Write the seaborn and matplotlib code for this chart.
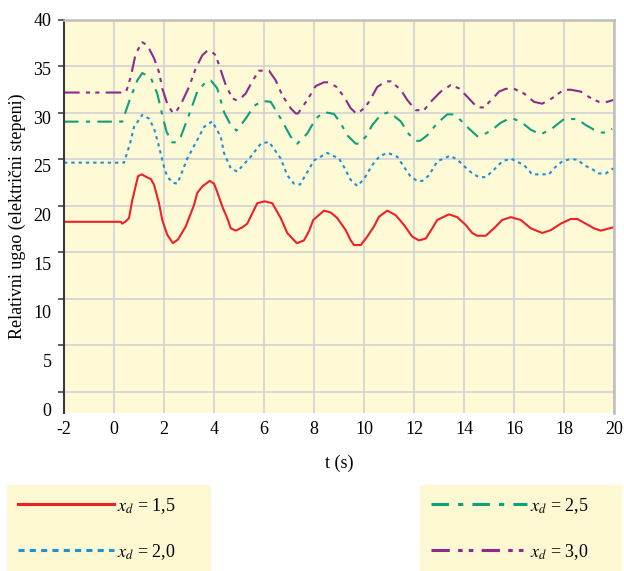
import numpy as np
import pandas as pd
import matplotlib
matplotlib.use("Agg")
import matplotlib.pyplot as plt
from matplotlib.lines import Line2D
import seaborn as sns

# ---------------- data ----------------
t_15 = [-2, 0.27, 0.33, 0.45, 0.6, 0.73, 0.96, 1.11, 1.31, 1.47, 1.6, 1.8, 1.93, 2.13, 2.36, 2.56,
        2.87, 3.2, 3.33, 3.53, 3.83, 4.0, 4.13, 4.36, 4.53, 4.67, 4.87, 5.13, 5.33, 5.53, 5.73,
        6.03, 6.33, 6.67, 6.93, 7.31, 7.6, 7.8, 7.97, 8.4, 8.67, 8.93, 9.27, 9.47, 9.6, 9.87,
        10.13, 10.4, 10.6, 10.93, 11.27, 11.6, 11.93, 12.2, 12.47, 12.73, 12.93, 13.4, 13.73,
        14.07, 14.33, 14.53, 14.87, 15.2, 15.53, 15.87, 16.27, 16.67, 17.13, 17.47, 17.87,
        18.27, 18.53, 18.87, 19.2, 19.47, 19.97]
v_15 = [18.3, 18.3, 18.1, 18.3, 18.7, 20.6, 23.2, 23.4, 23.1, 22.9, 22.3, 20.3, 18.5, 16.9, 16.0, 16.4,
        17.8, 20.1, 21.4, 22.1, 22.7, 22.4, 21.5, 19.75, 18.7, 17.6, 17.35, 17.7, 18.1, 19.2, 20.3,
        20.5, 20.3, 18.7, 17.1, 16.0, 16.3, 17.3, 18.5, 19.5, 19.3, 18.7, 17.4, 16.3, 15.8, 15.8,
        16.7, 17.8, 18.85, 19.5, 19.0, 17.96, 16.7, 16.3, 16.5, 17.6, 18.5, 19.1, 18.8,
        17.96, 17.1, 16.8, 16.8, 17.6, 18.5, 18.8, 18.5, 17.6, 17.1, 17.4, 18.1,
        18.6, 18.6, 18.1, 17.6, 17.35, 17.7]

t_20 = [-2, 0.4, 0.64, 0.8, 1.13, 1.4, 1.6, 1.77, 2.0, 2.13, 2.35, 2.53, 2.7, 2.93, 3.33, 3.6, 3.93,
        4.27, 4.4, 4.67, 4.93, 5.47, 5.87, 6.2, 6.67, 6.93, 7.2, 7.44, 7.7, 8.0, 8.53, 9.0, 9.2,
        9.47, 9.73, 10.0, 10.33, 10.64, 10.96, 11.33, 11.6, 11.87, 12.13, 12.33, 12.6, 12.93,
        13.44, 13.73, 14.0, 14.33, 14.6, 14.87, 15.2, 15.53, 15.87, 16.4, 16.73, 17.4, 17.6,
        17.93, 18.2, 18.53, 18.8, 19.13, 19.4, 19.67, 19.97]
v_20 = [24.66, 24.66, 26.7, 28.5, 29.8, 29.4, 28.35, 26.7, 24.2, 23.15, 22.5, 22.4, 23.5, 25.1, 27.1, 28.5, 29.1,
        27.45, 25.7, 24.05, 23.7, 25.3, 26.7, 26.9, 25.1, 23.3, 22.4, 22.3, 23.5, 24.9, 25.7, 25.1, 24.2,
        22.8, 22.15, 22.9, 24.4, 25.4, 25.7, 25.3, 24.2, 23.15, 22.7, 22.7, 23.3, 24.8,
        25.4, 25.0, 24.3, 23.5, 23.1, 23.1, 23.9, 24.8, 25.1, 24.4, 23.4, 23.4, 24.05,
        24.8, 25.0, 25.0, 24.4, 23.95, 23.5, 23.5, 24.05]

t_25 = [-2, 0.33, 0.6, 0.93, 1.13, 1.47, 1.73, 1.93, 2.1, 2.33, 2.47, 2.67, 3.0, 3.33, 3.73, 3.87,
        4.13, 4.4, 4.67, 4.9, 5.27, 5.6, 5.93, 6.27, 6.67, 7.07, 7.33, 7.73, 8.07, 8.4, 8.8,
        9.07, 9.33, 9.67, 9.8, 10.07, 10.33, 10.67, 11.0, 11.47, 11.8, 12.13, 12.24, 12.53,
        12.93, 13.33, 13.53, 13.8, 14.13, 14.53, 14.67, 15.13, 15.47, 15.8, 15.97, 16.33,
        16.67, 17.07, 17.53, 18.0, 18.53, 18.87, 19.2, 19.5, 19.67, 19.93]
v_25 = [29.07, 29.07, 31.2, 33.5, 34.3, 33.8, 32.1, 29.8, 28.0, 26.85, 26.85, 27.45, 29.8, 32.3, 33.5, 33.5,
        32.65, 30.1, 28.7, 28.1, 29.4, 30.75, 31.3, 31.2, 29.4, 27.45, 26.7, 27.8, 29.4, 30.1, 29.9,
        28.9, 27.6, 26.7, 26.7, 27.45, 28.7, 29.8, 30.1, 29.1, 27.7, 27.0, 27.0, 27.6,
        28.9, 29.85, 29.85, 29.4, 28.5, 27.5, 27.5, 28.2, 28.95, 29.4, 29.4, 28.95,
        28.2, 27.7, 28.35, 29.35, 29.35, 28.7, 28.2, 27.9, 27.9, 28.3]

t_30 = [-2, 0.47, 0.53, 0.67, 0.87, 1.13, 1.33, 1.6, 1.8, 1.93, 2.13, 2.33, 2.47, 2.67, 3.0, 3.27,
        3.53, 3.73, 3.87, 4.07, 4.27, 4.47, 4.73, 4.87, 5.0, 5.27, 5.53, 5.8, 6.2, 6.47, 6.73,
        7.07, 7.27, 7.36, 7.73, 8.07, 8.4, 8.6, 8.9, 9.2, 9.47, 9.71, 10.0, 10.2, 10.53, 10.87,
        11.07, 11.47, 11.73, 12.07, 12.4, 12.67, 13.07, 13.47, 13.8, 14.13, 14.53, 14.8, 15.2,
        15.4, 15.67, 16.0, 16.4, 16.8, 17.13, 17.53, 17.73, 18.0, 18.27, 18.67, 19.13, 19.4,
        19.73, 19.97]
v_30 = [32.2, 32.2, 32.65, 33.9, 36.4, 37.6, 37.3, 35.9, 34.4, 32.65, 31.0, 30.1, 30.1, 30.9, 32.8, 34.8,
        36.2, 36.7, 36.7, 36.2, 34.6, 33.0, 31.6, 31.4, 31.4, 32.1, 33.4, 34.55, 34.55, 33.5, 31.9,
        30.5, 29.95, 29.95, 31.4, 32.9, 33.3, 33.3, 32.8, 31.75, 30.5, 29.9, 30.5, 31.2, 32.8, 33.4,
        33.4, 32.5, 31.4, 30.3, 30.3, 31.2, 32.3, 33.0, 32.65, 31.75, 30.6, 30.6, 31.7,
        32.3, 32.6, 32.6, 32.1, 31.2, 31.0, 31.6, 32.0, 32.5, 32.5, 32.3, 31.5, 31.2,
        31.2, 31.4]

series_names = ["1,5", "2,0", "2,5", "3,0"]
x_ticks = list(range(-2, 21, 2))
y_ticks = list(range(0, 41, 5))
x_label = "t (s)"
y_label = "Relativni ugao (električni stepeni)"

# ---------------- styles ----------------
colors = {"1,5": "#EC2227", "2,0": "#1E90D6", "2,5": "#0E9F7B", "3,0": "#8C2A8E"}
plot_dashes = {"1,5": "", "2,0": (1.6, 1.9),
               "2,5": (7, 3.5, 2, 3.5),
               "3,0": (7.5, 3, 2, 2.5, 2, 3)}
legend_dashes = {"1,5": (None, None), "2,0": (2, 1.7),
                 "2,5": (5.7, 3, 1.7, 3),
                 "3,0": (6, 2.7, 1.5, 2, 1.5, 2.7)}

frames = []
for name, tt, vv in zip(series_names, [t_15, t_20, t_25, t_30], [v_15, v_20, v_25, v_30]):
    frames.append(pd.DataFrame({"t": tt, "v": vv, "xd": name}))
df = pd.concat(frames, ignore_index=True)

plt.rcParams["font.family"] = ["Liberation Serif", "DejaVu Serif"]
plt.rcParams["mathtext.fontset"] = "stix"

FS = 13
W, H = 624, 571
fig = plt.figure(figsize=(W / 100, H / 100), dpi=100)
ax = fig.add_axes([64 / W, 1 - 413 / H, 550 / W, 393 / H])
ax.set_facecolor("#FEFAD6")

sns.lineplot(data=df, x="t", y="v", hue="xd", style="xd", palette=colors,
             dashes=plot_dashes, estimator=None, sort=False, lw=1.5, ax=ax, legend=False)

ax.set_xlim(-2, 20)
ax.set_ylim(-2.26, 40)
ax.set_xticks(x_ticks)
ax.set_xticklabels([str(v) for v in x_ticks], fontsize=FS)
ax.set_yticks(y_ticks)
ax.set_yticklabels([])
ax.tick_params(axis="x", length=0, pad=6)
ax.tick_params(axis="y", length=4, width=1.2, color="#444444", direction="out")
ax.grid(True, color="#D2D2D2", lw=1.2)
ax.set_axisbelow(True)
for s in ["top", "right"]:
    ax.spines[s].set_color("#BDBDBD")
    ax.spines[s].set_linewidth(1.8)
ax.spines["left"].set_color("#3A3A3A")
ax.spines["left"].set_linewidth(1.5)
ax.spines["bottom"].set_visible(False)
ax.set_xlabel(x_label, fontsize=FS, labelpad=12)
ax.set_ylabel("")

# label axis: the reference's y labels are spaced independently of its grid
ax2 = ax.twinx()
ax2.set_ylim(-0.4, 40)
ax2.yaxis.tick_left()
ax2.yaxis.set_label_position("left")
ax2.set_yticks(y_ticks)
ax2.set_yticklabels([str(v) for v in y_ticks], fontsize=FS)
ax2.tick_params(axis="y", length=0, pad=9)
for s in ax2.spines.values():
    s.set_visible(False)
ax2.set_ylabel(y_label, fontsize=FS, labelpad=5)

# legends
handles = {n: Line2D([], [], color=colors[n], lw=2.2, dashes=legend_dashes[n]) for n in series_names}
labels = {n: r"$x_d$" + " = " + n for n in series_names}


def make_legend(names, x0, x1):
    leg = fig.legend([handles[n] for n in names], [labels[n] for n in names],
                     loc="upper left", mode="expand",
                     bbox_to_anchor=(x0 / W, 1 - 570 / H, (x1 - x0) / W, (570 - 485) / H),
                     bbox_transform=fig.transFigure,
                     frameon=True, fancybox=False, facecolor="#FCF8D2", edgecolor="none",
                     framealpha=1, fontsize=FS, handlelength=5.3, handletextpad=0.2,
                     labelspacing=1.45, borderpad=0.6, borderaxespad=0)
    return leg


leg1 = make_legend(series_names[:2], 7, 211)
leg2 = make_legend(series_names[2:], 420, 622)
fig.add_artist(leg1)

fig.savefig("out.png", dpi=100)
